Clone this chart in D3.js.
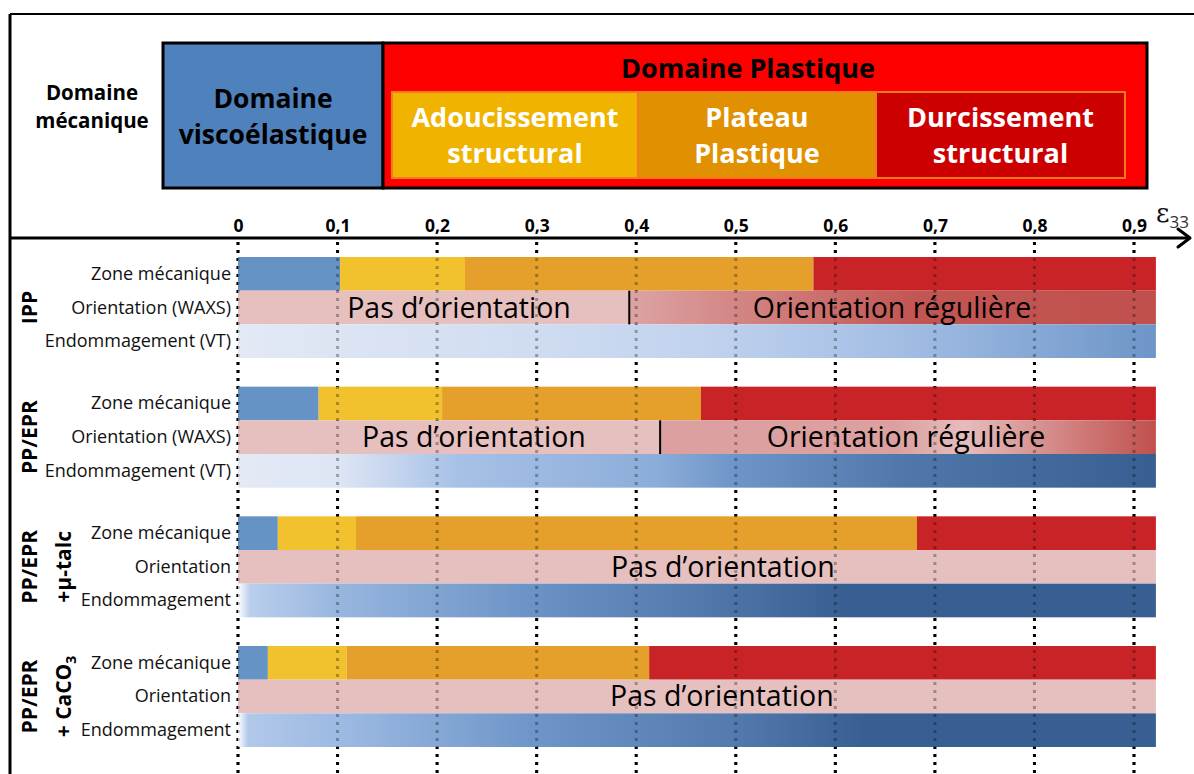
<!DOCTYPE html>
<html>
<head>
<meta charset="utf-8">
<script src="https://cdn.jsdelivr.net/npm/d3@7"></script>
<style>
  body { margin: 0; background: #fff; }
  svg { display: block; font-family: 'Open Sans', sans-serif; }
</style>
</head>
<body>
<div id="chart"></div>
<script>
// ---- data ----
let groups = ['IPP', 'PP/EPR', 'PP/EPR + µ-talc', 'PP/EPR + CaCO3']
let groupLine1 = ['IPP', 'PP/EPR', 'PP/EPR', 'PP/EPR']
let groupLine2 = ['', '', '+µ-talc', '+ CaCO']
let rowKeys = ['zone', 'orient', 'damage']
let rowLabels = [
  ['Zone mécanique', 'Orientation (WAXS)', 'Endommagement (VT)'],
  ['Zone mécanique', 'Orientation (WAXS)', 'Endommagement (VT)'],
  ['Zone mécanique', 'Orientation', 'Endommagement'],
  ['Zone mécanique', 'Orientation', 'Endommagement']
]
let ticks = [0, 0.1, 0.2, 0.3, 0.4, 0.5, 0.6, 0.7, 0.8, 0.9]
let strainMax = 0.922

// end of viscoelastic / softening / plateau (strain)
let zoneBounds = [
  [0.1025, 0.228, 0.578],
  [0.081, 0.205, 0.465],
  [0.040, 0.1185, 0.682],
  [0.030, 0.109, 0.413]
]

// onset of regular orientation (null = none)
let orientOnset = [0.393, 0.424, null, null]
// orientation level along strain [strain, level 0..1]
let orientProfile = [
  [[0, 0], [0.393, 0], [0.393, 0.25], [0.68, 0.95], [0.922, 1]],
  [[0, 0], [0.424, 0], [0.424, 0.28], [0.66, 0.28], [0.73, 0.03], [0.922, 1]],
  [[0, 0], [0.922, 0]],
  [[0, 0], [0.922, 0]]
]
let orientText = [
  [['Pas d’orientation', 0.222], ['Orientation régulière', 0.657]],
  [['Pas d’orientation', 0.237], ['Orientation régulière', 0.671]],
  [['Pas d’orientation', 0.487]],
  [['Pas d’orientation', 0.486]]
]
// damage level along strain [strain, level]
let damageProfile = [
  [[0, 0], [0.3, 0.12], [0.46, 0.2], [0.67, 0.38], [0.922, 0.6]],
  [[0, 0], [0.1, 0.03], [0.22, 0.36], [0.42, 0.47], [0.5, 0.6], [0.67, 0.82], [0.922, 1]],
  [[0, -0.5], [0.012, 0.25], [0.1, 0.42], [0.3, 0.62], [0.46, 0.8], [0.61, 1], [0.922, 1]],
  [[0, -0.5], [0.01, 0.3], [0.1, 0.4], [0.3, 0.6], [0.5, 0.8], [0.63, 1], [0.922, 1]]
]

// header schematic (fraction of header width)
let headMain = [['Domaine', 'viscoélastique', 0, 0.2236], ['Domaine Plastique', '', 0.2236, 1]]
let headSub = [['Adoucissement', 'structural', 0.2327, 0.4827], ['Plateau', 'Plastique', 0.4827, 0.7246], ['Durcissement', 'structural', 0.7246, 0.9776]]

// ---- setup ----
let width = 1194
let height = 774

let svg = d3.select('#chart').append('svg')
  .attr('width', width)
  .attr('height', height)

let defs = svg.append('defs')

let xPositionScale = d3.scaleLinear().domain([0, 0.9]).range([238, 1134])
let yGroup = d3.scaleBand().domain(d3.range(groups.length)).range([257, 747]).paddingInner(0.221)
let yRow = d3.scaleBand().domain(rowKeys).range([0, yGroup.bandwidth()])

let zoneColor = d3.scaleOrdinal().domain([0, 1, 2, 3]).range(['#6593c6', '#f2c12e', '#e4a02a', '#c82427'])
let orientColor = d3.scaleLinear().domain([0, 1]).range(['#e6bfbf', '#c0504d'])
let damageColor = d3.scaleLinear().domain([-0.5, 0, 0.35, 0.6, 1])
  .range(['#ffffff', '#e3e9f5', '#a9c3e8', '#6d95c8', '#375f92'])

let fmt = d3.formatLocale({ decimal: ',', thousands: ' ', grouping: [3], currency: ['', ''] }).format('~g')

// ---- frame ----
svg.append('line').attr('x1', 10).attr('x2', 10).attr('y1', 14).attr('y2', height)
  .attr('stroke', '#000').attr('stroke-width', 3)
svg.append('line').attr('x1', 10).attr('x2', width).attr('y1', 14).attr('y2', 14)
  .attr('stroke', '#000').attr('stroke-width', 2)

// ---- header ----
let xHead = d3.scaleLinear().domain([0, 1]).range([163, 1147])

svg.append('text').attr('x', 92).attr('y', 100).attr('text-anchor', 'middle')
  .attr('font-weight', 'bold').attr('font-size', 20.5).text('Domaine')
svg.append('text').attr('x', 92).attr('y', 128).attr('text-anchor', 'middle')
  .attr('font-weight', 'bold').attr('font-size', 20.5).text('mécanique')

svg.selectAll('.head-main')
  .data(headMain)
  .enter()
  .append('rect')
  .attr('class', 'head-main')
  .attr('x', d => xHead(d[2]))
  .attr('y', 43)
  .attr('width', d => xHead(d[3]) - xHead(d[2]))
  .attr('height', 145)
  .attr('fill', (d, i) => i === 0 ? '#4f81bd' : '#ff0000')
  .attr('stroke', '#000')
  .attr('stroke-width', 3)

svg.append('text').attr('x', (xHead(0) + xHead(0.2236)) / 2).attr('y', 108)
  .attr('text-anchor', 'middle').attr('font-weight', 'bold').attr('font-size', 26.5).text(headMain[0][0])
svg.append('text').attr('x', (xHead(0) + xHead(0.2236)) / 2).attr('y', 144)
  .attr('text-anchor', 'middle').attr('font-weight', 'bold').attr('font-size', 26.5).text(headMain[0][1])
svg.append('text').attr('x', 748).attr('y', 78)
  .attr('text-anchor', 'middle').attr('font-weight', 'bold').attr('font-size', 27).text(headMain[1][0])

svg.selectAll('.head-sub')
  .data(headSub)
  .enter()
  .append('rect')
  .attr('class', 'head-sub')
  .attr('x', d => xHead(d[2]))
  .attr('y', 92)
  .attr('width', d => xHead(d[3]) - xHead(d[2]))
  .attr('height', 86)
  .attr('fill', (d, i) => ['#f0b400', '#e09000', '#cc0000'][i])
  .attr('stroke', '#f07c1e')
  .attr('stroke-width', 2)

headSub.forEach(function(d) {
  let cx = (xHead(d[2]) + xHead(d[3])) / 2
  svg.append('text').attr('x', cx).attr('y', 127).attr('text-anchor', 'middle')
    .attr('fill', '#fff').attr('font-weight', 'bold').attr('font-size', 27).text(d[0])
  svg.append('text').attr('x', cx).attr('y', 163).attr('text-anchor', 'middle')
    .attr('fill', '#fff').attr('font-weight', 'bold').attr('font-size', 27).text(d[1])
})

// ---- grid (under bars) ----
let grid = svg.append('g')
grid.selectAll('line')
  .data(ticks)
  .enter()
  .append('line')
  .attr('x1', d => xPositionScale(d))
  .attr('x2', d => xPositionScale(d))
  .attr('y1', 242)
  .attr('y2', height)
  .attr('stroke', '#000')
  .attr('stroke-width', 3)
  .attr('stroke-dasharray', '3,5')

// ---- axis ----
let xAxis = d3.axisTop(xPositionScale).tickValues(ticks).tickFormat(fmt).tickSize(0).tickPadding(6)
let axisG = svg.append('g')
  .attr('class', 'axis')
  .attr('transform', 'translate(0,238)')
  .call(xAxis)
axisG.select('.domain').remove()
axisG.selectAll('text')
  .attr('font-family', "'Open Sans', sans-serif")
  .attr('font-weight', 'bold')
  .attr('font-size', 17.5)
  .attr('fill', '#000')

svg.append('line').attr('x1', 10).attr('x2', 1189).attr('y1', 238).attr('y2', 238)
  .attr('stroke', '#000').attr('stroke-width', 3)
svg.append('path').attr('d', 'M1178,229 L1190,238 L1178,247')
  .attr('fill', 'none').attr('stroke', '#000').attr('stroke-width', 3)
  .attr('stroke-linecap', 'round').attr('stroke-linejoin', 'round')

let eps = svg.append('text').attr('x', 1156).attr('y', 222).attr('font-family', 'DejaVu Serif, serif')
  .attr('font-size', 26).attr('fill', '#111')
eps.append('tspan').text('ε')
eps.append('tspan').attr('dy', 6).attr('font-size', 17).attr('font-family', "'Open Sans', sans-serif").attr('fill', '#333').text('33')

// ---- bars ----
let x0 = xPositionScale(0)
let xEnd = xPositionScale(strainMax)
function offset(s) {
  return ((xPositionScale(s) - x0) / (xEnd - x0) * 100) + '%'
}

groups.forEach(function(g, gi) {
  let top = yGroup(gi)
  let gg = svg.append('g').attr('transform', 'translate(0,' + top + ')')

  // zone segments
  let bounds = [0].concat(zoneBounds[gi]).concat([strainMax])
  let segs = d3.range(4).map(i => ({ i: i, from: bounds[i], to: bounds[i + 1] }))
  gg.selectAll('.zone')
    .data(segs)
    .enter()
    .append('rect')
    .attr('class', 'zone')
    .attr('x', d => xPositionScale(d.from))
    .attr('width', d => xPositionScale(d.to) - xPositionScale(d.from))
    .attr('y', yRow('zone'))
    .attr('height', yRow.bandwidth())
    .attr('fill', d => zoneColor(d.i))

  // orientation gradient
  let og = defs.append('linearGradient').attr('id', 'orient' + gi)
  og.selectAll('stop')
    .data(orientProfile[gi])
    .enter()
    .append('stop')
    .attr('offset', d => offset(d[0]))
    .attr('stop-color', d => orientColor(d[1]))
  gg.append('rect')
    .attr('x', x0)
    .attr('width', xEnd - x0)
    .attr('y', yRow('orient'))
    .attr('height', yRow.bandwidth())
    .attr('fill', 'url(#orient' + gi + ')')

  // damage gradient
  let dg = defs.append('linearGradient').attr('id', 'damage' + gi)
  dg.selectAll('stop')
    .data(damageProfile[gi])
    .enter()
    .append('stop')
    .attr('offset', d => offset(d[0]))
    .attr('stop-color', d => damageColor(d[1]))
  gg.append('rect')
    .attr('x', x0)
    .attr('width', xEnd - x0)
    .attr('y', yRow('damage'))
    .attr('height', yRow.bandwidth())
    .attr('fill', 'url(#damage' + gi + ')')

  if (orientOnset[gi] !== null) {
    gg.append('line')
      .attr('x1', xPositionScale(orientOnset[gi]))
      .attr('x2', xPositionScale(orientOnset[gi]))
      .attr('y1', yRow('orient'))
      .attr('y2', yRow('orient') + yRow.bandwidth())
      .attr('stroke', '#000')
      .attr('stroke-width', 2)
  }

  // row labels
  gg.selectAll('.rowlabel')
    .data(rowLabels[gi])
    .enter()
    .append('text')
    .attr('class', 'rowlabel')
    .attr('x', 231)
    .attr('y', (d, i) => yRow(rowKeys[i]) + yRow.bandwidth() / 2 + 6)
    .attr('text-anchor', 'end')
    .attr('font-size', 18)
    .attr('fill', '#111')
    .text(d => d)

  // group labels (vertical)
  let cy = yRow.range()[1] / 2
  let line2 = groupLine2[gi]
  gg.append('text')
    .attr('transform', 'translate(37,' + cy + ') rotate(-90)')
    .attr('text-anchor', 'middle')
    .attr('font-weight', 'bold')
    .attr('font-size', 21)
    .text(groupLine1[gi])
  if (line2) {
    let t = gg.append('text')
      .attr('transform', 'translate(71,' + cy + ') rotate(-90)')
      .attr('text-anchor', 'middle')
      .attr('font-weight', 'bold')
      .attr('font-size', 21)
      .text(line2)
    if (gi === 3) {
      t.append('tspan').attr('dy', 5).attr('font-size', 14).text('3')
    }
  }
})

// ---- grid overlay (faint through bars) ----
svg.append('g').selectAll('line')
  .data(ticks)
  .enter()
  .append('line')
  .attr('x1', d => xPositionScale(d))
  .attr('x2', d => xPositionScale(d))
  .attr('y1', 242)
  .attr('y2', height)
  .attr('stroke', '#000')
  .attr('stroke-opacity', 0.3)
  .attr('stroke-width', 3)
  .attr('stroke-dasharray', '3,5')

// ---- orientation texts (above overlay) ----
groups.forEach(function(g, gi) {
  svg.selectAll('.otext' + gi)
    .data(orientText[gi])
    .enter()
    .append('text')
    .attr('x', d => xPositionScale(d[1]))
    .attr('y', yGroup(gi) + yRow('orient') + yRow.bandwidth() / 2 + 10)
    .attr('text-anchor', 'middle')
    .attr('font-size', 28.5)
    .attr('fill', '#000')
    .text(d => d[0])
})
</script>
</body>
</html>
